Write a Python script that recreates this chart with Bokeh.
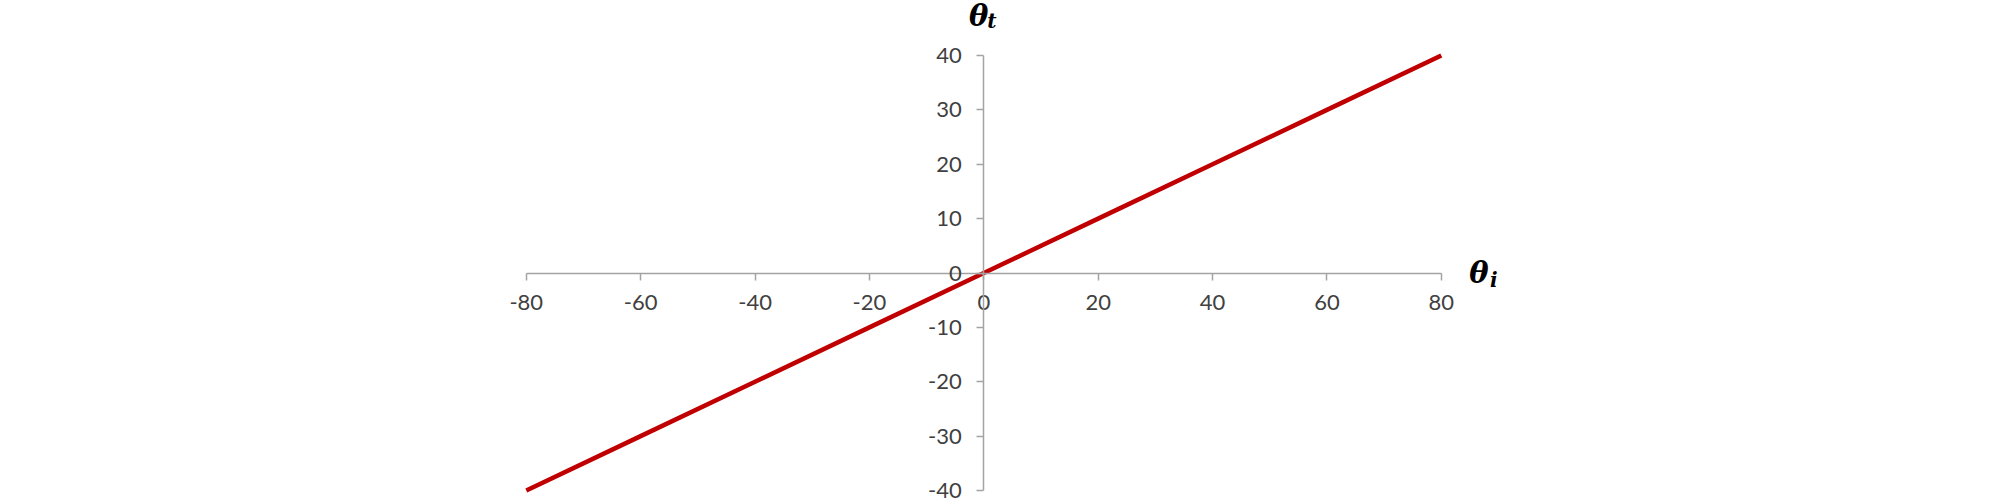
from bokeh.plotting import figure
from bokeh.models import Range1d, FixedTicker, Label, NumeralTickFormatter
from bokeh.embed import file_html
from bokeh.resources import INLINE

theta_i = [-80, -60, -40, -20, 0, 20, 40, 60, 80]
theta_t = [-40, -30, -20, -10, 0, 10, 20, 30, 40]
x_ticks = [-80, -60, -40, -20, 0, 20, 40, 60, 80]
y_ticks = [-40, -30, -20, -10, 0, 10, 20, 30, 40]

p = figure(frame_width=1990, frame_height=504, output_backend="svg", toolbar_location=None,
           x_range=Range1d(-171.94, 176.03), y_range=Range1d(-42.57, 50.11),
           min_border=0)
p.outline_line_color = None
p.grid.visible = False
p.background_fill_color = "white"

AX = "#a3a3a3"
for ax in (p.xaxis[0], p.yaxis[0]):
    ax.fixed_location = 0
    ax.axis_line_color = AX
    ax.axis_line_width = 1.5
    ax.major_tick_line_color = AX
    ax.major_tick_line_width = 1.5
    ax.minor_tick_line_color = None
    ax.major_tick_in = 0
    ax.major_tick_out = 7
    ax.major_label_text_font = "Lato"
    ax.major_label_text_font_size = "22px"
    ax.major_label_text_color = "#404040"
    ax.formatter = NumeralTickFormatter(format="0")
p.xaxis.ticker = FixedTicker(ticks=x_ticks)
p.yaxis.ticker = FixedTicker(ticks=y_ticks)
p.xaxis.bounds = (-80, 80)
p.yaxis.bounds = (-40, 40)
p.xaxis.major_label_standoff = 15
p.yaxis.major_label_standoff = 15

p.line(theta_i, theta_t, line_color="#c00000", line_width=4.5)

for txt, sub, x, y, sx, sy in [("θ", "t", -2.6, 47.3, 0.6, 46.4), ("θ", "i", 84.9, 0.0, 88.5, -1.3)]:
    p.add_layout(Label(x=x, y=y, text=txt, text_font="DejaVu Serif", text_font_style="bold italic",
                       text_font_size="29px", text_color="black", text_baseline="alphabetic"))
    p.add_layout(Label(x=sx, y=sy, text=sub, text_font="DejaVu Serif", text_font_style="bold italic",
                       text_font_size="20px", text_color="black", text_baseline="alphabetic"))

open("out.html", "w").write(file_html(p, INLINE))
